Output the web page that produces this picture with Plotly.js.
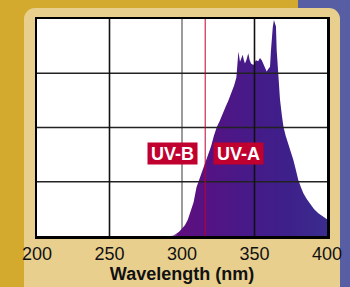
<!DOCTYPE html>
<html>
<head>
<meta charset="utf-8">
<script src="https://cdn.plot.ly/plotly-3.0.1.min.js"></script>
<style>
html,body{margin:0;padding:0;width:350px;height:287px;overflow:hidden;background:#D3A92E;}
#blue{position:absolute;left:298px;top:0;width:52px;height:287px;background:#575EA3;}
#panel{position:absolute;left:24px;top:8px;width:316px;height:300px;background:#E8CF8E;border-radius:11px;}
#chart{position:absolute;left:0;top:0;width:350px;height:287px;}
</style>
</head>
<body>
<div id="blue"></div>
<div id="panel"></div>
<div id="chart"></div>
<script>
// Spectrum data (wavelength nm, relative intensity)
const wavelength = [292,294,296,298,300,302,304,306,308,310,312,314,316,318,320,322,324,326,328,330,332,334,336,337.5,338.2,338.9,339.5,340,341,341.8,342.6,343.4,344.5,345.7,346.6,347.6,349.2,351,352.5,353.8,355,356.1,357.3,358.4,359.5,360.7,361.3,361.8,362.6,363.4,364.1,364.8,365.3,366.4,367.6,369,370,371.5,373.3,375,376.8,378.5,380.2,382,383.7,386,388.3,391,394,396.5,398.6,400];
const intensity = [0,0.01,0.04,0.08,0.14,0.2,0.3,0.45,0.62,0.9,1.05,1.2,1.35,1.5,1.65,1.85,2.01,2.12,2.26,2.38,2.5,2.63,2.78,2.92,3.1,3.40,3.3,3.21,3.28,3.34,3.25,3.18,3.25,3.37,3.25,3.18,3.15,3.24,3.22,3.28,3.24,3.18,3.1,3.03,3.08,3.12,3.4,3.67,3.85,3.98,3.92,3.86,3.43,2.94,2.51,2.2,2.01,1.85,1.71,1.55,1.40,1.22,1.03,0.9,0.79,0.68,0.60,0.5,0.42,0.37,0.33,0.31];

const xTicks = [200,250,300,350,400];
const xTickLabels = ['200','250','300','350','400'];
const yGrid = [1,2,3];
const xGridBlack = [250,350];
const xGridGray = [300];
const uvBoundary = 316;
const bandLabels = ['UV-B','UV-A'];
const bandLabelX = [293.4,339];
const bandLabelY = [1.52,1.52];

const FONT = "'Liberation Sans',Arial,sans-serif";

const shapes = [];
yGrid.forEach(v => shapes.push({type:'line',xref:'paper',yref:'y',x0:0,x1:1,y0:v,y1:v,line:{color:'#222',width:1.7},layer:'above'}));
xGridBlack.forEach(v => shapes.push({type:'line',xref:'x',yref:'paper',x0:v,x1:v,y0:0,y1:1,line:{color:'#111',width:1.6},layer:'above'}));
xGridGray.forEach(v => shapes.push({type:'line',xref:'x',yref:'paper',x0:v,x1:v,y0:0,y1:1,line:{color:'#7a7a7a',width:1.5},layer:'below'}));
shapes.push({type:'line',xref:'x',yref:'paper',x0:uvBoundary,x1:uvBoundary,y0:0,y1:1,line:{color:'#C0002F',width:1},layer:'above'});

const annotations = bandLabels.map((t,i)=>({
  x:bandLabelX[i], y:bandLabelY[i], xref:'x', yref:'y', text:t, showarrow:false,
  font:{family:FONT,size:18,color:'#fff',weight:'bold'},
  bgcolor:'#C0002F', borderpad:0, width:49, height:21, align:'center', valign:'middle'
}));

const trace = {
  x: wavelength, y: intensity, type:'scatter', mode:'lines',
  line:{width:0,color:'rgba(0,0,0,0)'},
  fill:'tozeroy',
  fillgradient:{type:'horizontal', start:292, stop:400,
    colorscale:[[0,'#b080c0'],[0.05,'#5e0e7e'],[0.25,'#541384'],[0.5,'#461a88'],[0.75,'#3e208a'],[1,'#3a2c8e']]},
  hoverinfo:'skip'
};

const layout = {
  width:350, height:287,
  margin:{l:37,r:23,t:19,b:51},
  paper_bgcolor:'rgba(0,0,0,0)',
  plot_bgcolor:'#ffffff',
  showlegend:false,
  xaxis:{range:[200,400], tickvals:xTicks, ticktext:xTickLabels, showgrid:false, zeroline:false,
    showline:true, mirror:true, linecolor:'#000', linewidth:2.5, ticks:'', ticklen:0, ticklabelstandoff:0,
    tickfont:{family:FONT,size:18,color:'#111'},
    title:{text:'Wavelength (nm)', font:{family:FONT,size:18,color:'#111',weight:'bold'}, standoff:4}},
  yaxis:{range:[0,4], showgrid:false, zeroline:false, showticklabels:false, ticks:'',
    showline:true, mirror:true, linecolor:'#000', linewidth:2.5},
  shapes: shapes,
  annotations: annotations
};

Plotly.newPlot('chart',[trace],layout,{displayModeBar:false,staticPlot:true});
</script>
</body>
</html>
